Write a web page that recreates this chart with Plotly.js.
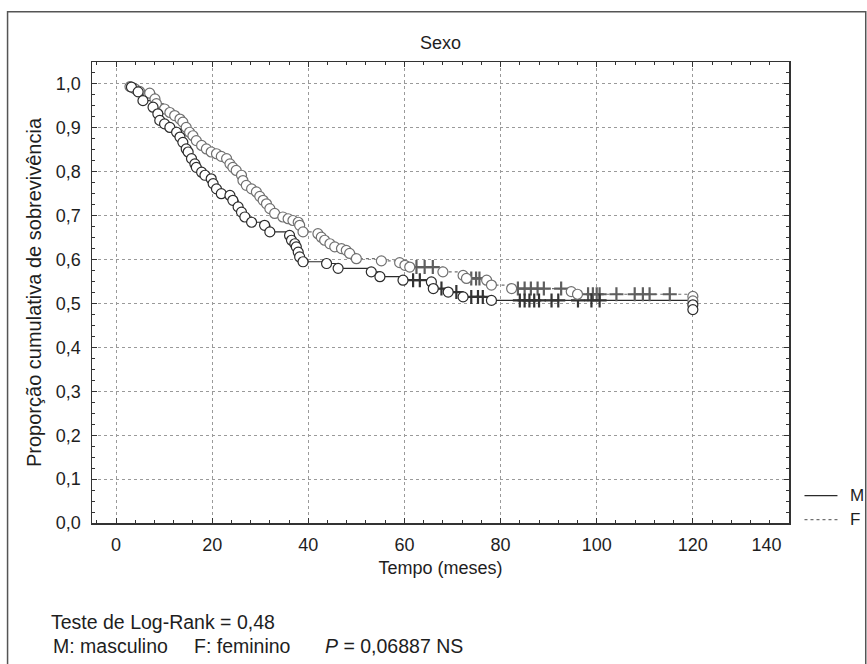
<!DOCTYPE html>
<html><head><meta charset="utf-8">
<script src="https://cdn.plot.ly/plotly-3.0.1.min.js"></script>
<style>html,body{margin:0;padding:0;background:#fff}</style>
</head><body>
<div id="chart" style="width:867px;height:664px"></div>
<script>
// ---- data ----
const maleEventTime = [3.2,4.6,5.6,7.7,8.7,9.1,10.1,11.2,12.6,13.3,13.9,14.6,15.0,15.7,16.4,16.7,17.8,18.5,19.8,20.2,20.9,21.9,23.7,24.3,25.4,26.1,26.8,28.2,30.9,32.0,36.1,36.5,37.2,37.5,37.9,38.2,38.9,43.8,46.2,53.1,54.9,59.7,65.6,66.0,69.1,72.2,78.1,120,120];
const maleEventSurv = [0.993,0.982,0.962,0.947,0.932,0.917,0.909,0.901,0.890,0.879,0.867,0.852,0.845,0.830,0.818,0.810,0.799,0.792,0.784,0.773,0.761,0.750,0.746,0.735,0.720,0.708,0.697,0.685,0.678,0.663,0.655,0.644,0.636,0.629,0.617,0.606,0.595,0.591,0.580,0.572,0.561,0.553,0.549,0.534,0.526,0.515,0.507,0.497,0.486];
const maleCensTime = [61.8,63.2,67.7,70.8,73.9,75.3,76.3,84.0,85.0,86.0,87.0,88.0,90.6,92.0,96.1,98.9,100.6];
const maleCensSurv = [0.553,0.553,0.534,0.526,0.515,0.515,0.515,0.507,0.507,0.507,0.507,0.507,0.507,0.507,0.507,0.507,0.507];

const femaleEventTime = [2.9,3.9,4.9,7.0,8.1,8.4,10.1,11.2,12.2,13.3,13.9,14.6,15.3,16.0,16.7,17.8,18.8,19.8,20.9,21.9,23.0,23.7,24.3,25.0,26.1,26.4,27.1,28.2,29.2,29.9,30.6,31.3,32.0,33.0,34.7,35.8,36.8,37.9,38.2,38.9,42.0,42.7,43.4,44.5,45.5,46.9,47.9,48.6,50.0,55.2,59.0,60.1,61.1,68.0,72.2,72.9,77.1,78.1,82.3,94.7,96.0,120,120];
const femaleEventSurv = [0.994,0.989,0.983,0.979,0.966,0.955,0.943,0.935,0.928,0.920,0.913,0.901,0.890,0.882,0.871,0.860,0.852,0.845,0.841,0.835,0.830,0.818,0.810,0.803,0.792,0.780,0.769,0.761,0.754,0.744,0.735,0.727,0.716,0.705,0.697,0.693,0.689,0.685,0.678,0.663,0.659,0.651,0.644,0.636,0.629,0.625,0.621,0.614,0.602,0.597,0.593,0.587,0.583,0.572,0.564,0.557,0.553,0.542,0.534,0.527,0.521,0.516,0.506];
const femaleCensTime = [62.5,64.2,65.9,73.9,74.9,75.6,83.6,85.0,86.3,87.7,89.0,92.6,98.2,99.2,100.0,100.6,104.1,107.9,109.6,111.0,115.2];
const femaleCensSurv = [0.583,0.583,0.583,0.557,0.557,0.557,0.534,0.534,0.534,0.534,0.534,0.534,0.521,0.521,0.521,0.521,0.521,0.521,0.521,0.521,0.521];

const seriesNames = ['M','F'];
const xTickVals = [0,20,40,60,80,100,120,140];
const xTickText = ['0','20','40','60','80','100','120','140'];
const yTickVals = [0,0.1,0.2,0.3,0.4,0.5,0.6,0.7,0.8,0.9,1.0];

// ---- layout helpers (pixel -> paper) ----
const W = 867, H = 664;
const L = 92, R = 789.5, T = 62, B = 523.3;
const px = p => (p - L) / (R - L);
const py = p => (B - p) / (B - T);
const FONT = '"Liberation Sans",Arial,Helvetica,sans-serif';
const TXT = '#1e1e1e';
const DARK = '#2b2b2b', GREY = '#707070';
const NB = '\u00a0';
// last tick label sits inside the frame, as in the reference
const xTickShown = xTickText.map((t, i) => i === xTickText.length - 1 ? t + NB.repeat(9) : t);

const traces = [
  {x: femaleEventTime, y: femaleEventSurv, name: seriesNames[1], type: 'scatter', mode: 'lines',
   line: {shape: 'hv', color: GREY, width: 1.2, dash: '3px,3px'}},
  {x: maleEventTime, y: maleEventSurv, name: seriesNames[0], type: 'scatter', mode: 'lines',
   line: {shape: 'hv', color: DARK, width: 1.2}},
  {x: femaleCensTime, y: femaleCensSurv, name: seriesNames[1], type: 'scatter', mode: 'markers',
   marker: {symbol: 'cross-thin-open', size: 10, color: '#5e5e5e', line: {color: '#5e5e5e', width: 2.2}}},
  {x: maleCensTime, y: maleCensSurv, name: seriesNames[0], type: 'scatter', mode: 'markers',
   marker: {symbol: 'cross-thin-open', size: 10, color: '#333', line: {color: '#333', width: 2.2}}},
  {x: femaleEventTime, y: femaleEventSurv, name: seriesNames[1], type: 'scatter', mode: 'markers',
   marker: {symbol: 'circle', size: 10, color: '#fff', line: {color: GREY, width: 1.2}}},
  {x: maleEventTime, y: maleEventSurv, name: seriesNames[0], type: 'scatter', mode: 'markers',
   marker: {symbol: 'circle', size: 10, color: '#fff', line: {color: DARK, width: 1.2}}}
];

const axisCommon = {
  ticks: 'inside', ticklen: 5, tickwidth: 1, tickcolor: '#333',
  showline: true, linecolor: '#333', linewidth: 1.5, mirror: 'allticks',
  showgrid: true, gridcolor: '#9a9a9a', gridwidth: 1, griddash: 'dot', zeroline: false,
  tickfont: {family: FONT, size: 18, color: TXT}, automargin: false, fixedrange: true
};

const layout = {
  width: W, height: H,
  margin: {l: L, r: W - R, t: T, b: H - B, pad: 0},
  paper_bgcolor: '#fff', plot_bgcolor: '#fff',
  font: {family: FONT, size: 18, color: TXT},
  separators: ',.',
  showlegend: false,
  title: {text: 'Sexo', x: 0.5, xref: 'paper', xanchor: 'center', y: 1 - 43 / H, yref: 'container', yanchor: 'middle',
          font: {family: FONT, size: 18, color: TXT}},
  xaxis: Object.assign({}, axisCommon, {
    range: [-5, 140], tickmode: 'array', tickvals: xTickVals, ticktext: xTickShown, ticklabelstandoff: 5,
    minor: {dtick: 4, ticks: 'inside', ticklen: 3, tickcolor: '#333', showgrid: false},
    title: {text: 'Tempo (meses)', standoff: 7, font: {family: FONT, size: 18, color: TXT}}}),
  yaxis: Object.assign({}, axisCommon, {
    range: [0, 1.05], tickvals: yTickVals, tickformat: '.1f', ticklabelstandoff: 6,
    minor: {dtick: 0.025, ticks: 'inside', ticklen: 3, tickcolor: '#333', showgrid: false},
    title: {text: 'Proporção cumulativa de sobrevivência', standoff: 9, font: {family: FONT, size: 20, color: TXT}}}),
  shapes: [
    {type: 'rect', xref: 'paper', yref: 'paper', x0: px(7.5), x1: px(866.3), y0: py(720), y1: py(11.7),
     line: {color: '#555', width: 1.5}, fillcolor: 'rgba(0,0,0,0)', layer: 'below'},
    // legend samples
    {type: 'line', xref: 'paper', yref: 'paper', x0: px(805), x1: px(838), y0: py(496), y1: py(496),
     line: {color: DARK, width: 1.2}},
    {type: 'line', xref: 'paper', yref: 'paper', x0: px(805), x1: px(838), y0: py(520), y1: py(520),
     line: {color: GREY, width: 1.2, dash: 'dot'}}
  ],
  annotations: [
    {text: seriesNames[0], xref: 'paper', yref: 'paper', x: px(849), y: py(496), xanchor: 'left', yanchor: 'middle', showarrow: false, font: {size: 17}},
    {text: seriesNames[1], xref: 'paper', yref: 'paper', x: px(849), y: py(520), xanchor: 'left', yanchor: 'middle', showarrow: false, font: {size: 17}},
    {text: 'Teste de Log-Rank = 0,48', xref: 'paper', yref: 'paper', x: px(49), y: py(622), xanchor: 'left', yanchor: 'middle', showarrow: false, font: {size: 19.5}},
    {text: 'M: masculino', xref: 'paper', yref: 'paper', x: px(51), y: py(646), xanchor: 'left', yanchor: 'middle', showarrow: false, font: {size: 19.5}},
    {text: 'F: feminino', xref: 'paper', yref: 'paper', x: px(192), y: py(646), xanchor: 'left', yanchor: 'middle', showarrow: false, font: {size: 19.5}},
    {text: '<i>P</i> = 0,06887 NS', xref: 'paper', yref: 'paper', x: px(323), y: py(646), xanchor: 'left', yanchor: 'middle', showarrow: false, font: {size: 19.5}}
  ]
};

Plotly.newPlot('chart', traces, layout, {staticPlot: true, displayModeBar: false});
</script>
</body></html>
